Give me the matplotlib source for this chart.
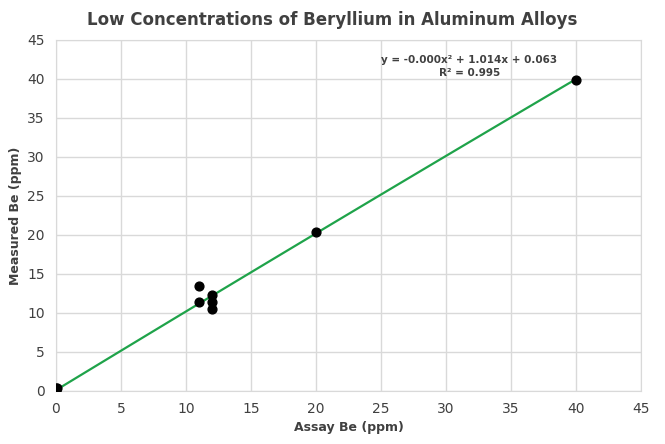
import numpy as np
import matplotlib.pyplot as plt

assay = [0, 0, 0.1, 11, 11, 12, 12, 12, 20, 40]
measured = [0.1, 0.4, 0.3, 13.4, 11.4, 12.3, 11.4, 10.5, 20.3, 39.9]
# trendline coefficients (label rounds the x² term to -0.000)
coef = [-0.0004, 1.014, 0.063]

fig = plt.figure(figsize=(6.65, 4.44), dpi=100)
ax = fig.add_axes([0.084, 0.12, 0.88, 0.79])

xs = np.linspace(0, 40, 50)
ax.plot(xs, np.polyval(coef, xs), color='#1fa34a', lw=1.6, zorder=2)
ax.scatter(assay, measured, s=40, color='black', zorder=3)

ax.set_xlim(0, 45)
ax.set_ylim(0, 45)
ax.set_xticks(range(0, 46, 5))
ax.set_yticks(range(0, 46, 5))
ax.grid(color='#d9d9d9', lw=1)
ax.set_axisbelow(True)
for s in ax.spines.values():
    s.set_color('#d9d9d9')
ax.tick_params(length=0, labelsize=10, colors='#404040', pad=8)

ax.set_xlabel('Assay Be (ppm)', fontsize=9, fontweight='bold', color='#404040')
ax.set_ylabel('Measured Be (ppm)', fontsize=9, fontweight='bold', color='#404040')
fig.suptitle('Low Concentrations of Beryllium in Aluminum Alloys', y=0.975,
             fontsize=12, fontweight='bold', color='#404040')
ax.text(31.8, 41.6, 'y = -0.000x² + 1.014x + 0.063\nR² = 0.995', ha='center', va='center',
        fontsize=7.5, fontweight='bold', color='#404040', linespacing=1.3)

fig.savefig('out.png')
